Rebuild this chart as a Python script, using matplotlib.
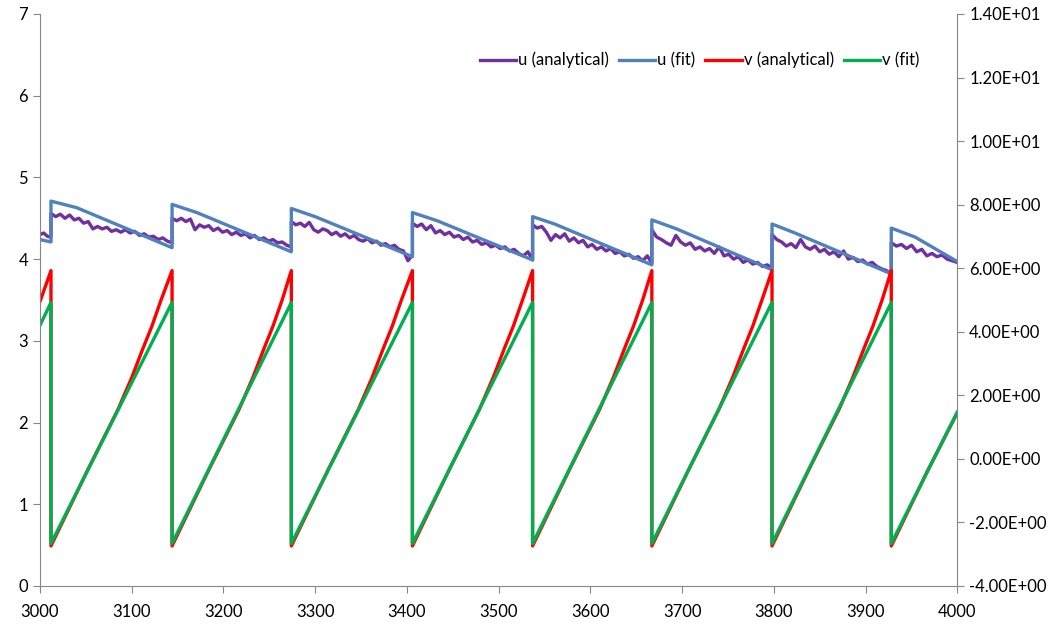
import matplotlib.pyplot as plt
from matplotlib.ticker import FuncFormatter
import numpy as np

# jump times of the sawtooth
spikes = [3012, 3144, 3274, 3406, 3537, 3667, 3798, 3928]

# u (fit): piecewise decay with a kink after each jump
u_fit_x = [3000, 3012, 3012, 3040, 3144, 3144, 3171, 3274, 3274, 3300, 3406,
           3406, 3433, 3537, 3537, 3561, 3667, 3667, 3694, 3798, 3798, 3823,
           3928, 3928, 3954, 4000]
u_fit_y = [4.24, 4.21, 4.71, 4.63, 4.14, 4.67, 4.57, 4.09, 4.62, 4.52, 4.03,
           4.57, 4.47, 3.99, 4.52, 4.43, 3.93, 4.48, 4.37, 3.87, 4.43, 4.32,
           3.82, 4.38, 4.27, 3.97]

# u (analytical): noisy values, one list per segment between jumps
u_an_segments = [
    [4.30, 4.32, 4.28, 4.27],
    [4.56, 4.52, 4.55, 4.50, 4.54, 4.48, 4.50, 4.44, 4.46, 4.37, 4.40, 4.37,
     4.39, 4.34, 4.36, 4.33, 4.36, 4.32, 4.34, 4.29, 4.31, 4.27, 4.28, 4.24,
     4.26, 4.22, 4.20],
    [4.50, 4.47, 4.50, 4.46, 4.49, 4.36, 4.42, 4.39, 4.41, 4.35, 4.38, 4.33,
     4.35, 4.30, 4.33, 4.29, 4.31, 4.26, 4.29, 4.24, 4.26, 4.22, 4.24, 4.20,
     4.21, 4.17, 4.15],
    [4.46, 4.42, 4.44, 4.40, 4.45, 4.36, 4.33, 4.37, 4.35, 4.30, 4.33, 4.28,
     4.31, 4.26, 4.29, 4.24, 4.22, 4.25, 4.20, 4.22, 4.17, 4.19, 4.15, 4.17,
     4.12, 4.10, 3.98, 4.05],
    [4.44, 4.40, 4.43, 4.36, 4.41, 4.32, 4.35, 4.30, 4.33, 4.27, 4.29, 4.24,
     4.27, 4.21, 4.23, 4.18, 4.20, 4.15, 4.17, 4.13, 4.15, 4.10, 4.12, 4.07,
     4.04, 4.09, 3.99],
    [4.42, 4.38, 4.40, 4.33, 4.23, 4.30, 4.26, 4.31, 4.22, 4.26, 4.20, 4.23,
     4.15, 4.18, 4.12, 4.15, 4.10, 4.13, 4.07, 4.09, 4.04, 4.06, 4.01, 4.03,
     3.98, 4.04, 3.95],
    [4.36, 4.27, 4.24, 4.20, 4.17, 4.29, 4.21, 4.17, 4.20, 4.12, 4.15, 4.10,
     4.13, 4.07, 4.15, 4.04, 4.06, 4.00, 4.03, 3.96, 3.99, 3.94, 3.96, 3.91,
     3.93, 3.89],
    [4.30, 4.24, 4.21, 4.16, 4.19, 4.14, 4.24, 4.15, 4.12, 4.16, 4.09, 4.12,
     4.06, 4.09, 4.03, 4.10, 4.00, 4.02, 3.97, 3.99, 3.94, 3.96, 3.91, 3.88,
     3.86, 3.82],
    [4.20, 4.16, 4.18, 4.13, 4.17, 4.09, 4.12, 4.04, 4.07, 4.03, 4.05, 4.00,
     3.98, 3.96],
]

# v (analytical): values at fixed offsets after each jump
v_an_offsets = [40, 73, 88, 100, 110, 120]
v_an_vals = [1.42, 2.16, 2.55, 2.90, 3.18, 3.50]
v_an_x = [3000, 3012, 3012]
v_an_y = [3.48, 3.86, 0.49]
for t0, t1 in zip(spikes, spikes[1:] + [None]):
    if t1 is None:
        v_an_x += [t0 + 40, 4000]
        v_an_y += [1.42, 2.12]
    else:
        v_an_x += [t0 + d for d in v_an_offsets] + [t1, t1]
        v_an_y += v_an_vals + [3.86, 0.49]

# v (fit)
v_fit_x = [3000, 3012, 3012, 3144, 3144, 3274, 3274, 3406, 3406, 3537, 3537,
           3667, 3667, 3798, 3798, 3928, 3928, 4000]
v_fit_y = [3.19, 3.47, 0.52, 3.47, 0.52, 3.47, 0.52, 3.47, 0.52, 3.47, 0.52,
           3.47, 0.52, 3.47, 0.52, 3.47, 0.52, 2.13]

bounds = [3000] + spikes + [4000]
u_an_x, u_an_y = [], []
for i, seg in enumerate(u_an_segments):
    u_an_x += list(np.linspace(bounds[i], bounds[i + 1], len(seg)))
    u_an_y += seg

plt.rcParams['font.family'] = ['Lato', 'DejaVu Sans']
grey = '#868686'

fig = plt.figure(figsize=(10.52, 6.25), dpi=100)
ax = fig.add_axes([0.038, 0.0624, 0.872, 0.9152])

ax.plot(u_an_x, u_an_y, color='#7030A0', lw=2.4, label='u (analytical)')
ax.plot(u_fit_x, u_fit_y, color='#4F81BD', lw=2.4, label='u (fit)')
ax.plot(v_an_x, v_an_y, color='#FF0000', lw=2.4, label='v (analytical)')
ax.plot(v_fit_x, v_fit_y, color='#00B050', lw=2.4, label='v (fit)')

ax.set_xlim(3000, 4000)
ax.set_ylim(0, 7)
ax.set_xticks(range(3000, 4001, 100))
ax.set_yticks(range(0, 8))

ax2 = ax.twinx()
ax2.set_ylim(-4, 14)
ax2.set_yticks(range(-4, 15, 2))
ax2.yaxis.set_major_formatter(FuncFormatter(lambda v, p: '%.2E' % v))

for a in (ax, ax2):
    a.spines['top'].set_visible(False)
    for s in ('left', 'right', 'bottom'):
        a.spines[s].set_color(grey)
    a.tick_params(colors=grey, labelcolor='black', labelsize=12, length=5,
                  direction='out')
ax.spines['right'].set_visible(False)
ax2.spines['left'].set_visible(False)
ax2.spines['bottom'].set_visible(False)
ax.tick_params(axis='x', pad=8)

ax.legend(loc='upper right', bbox_to_anchor=(0.975, 0.96), ncol=4, frameon=False,
          fontsize=12, handlelength=2.2, handletextpad=0.1, columnspacing=0.6)

fig.savefig('out.png', dpi=100)
